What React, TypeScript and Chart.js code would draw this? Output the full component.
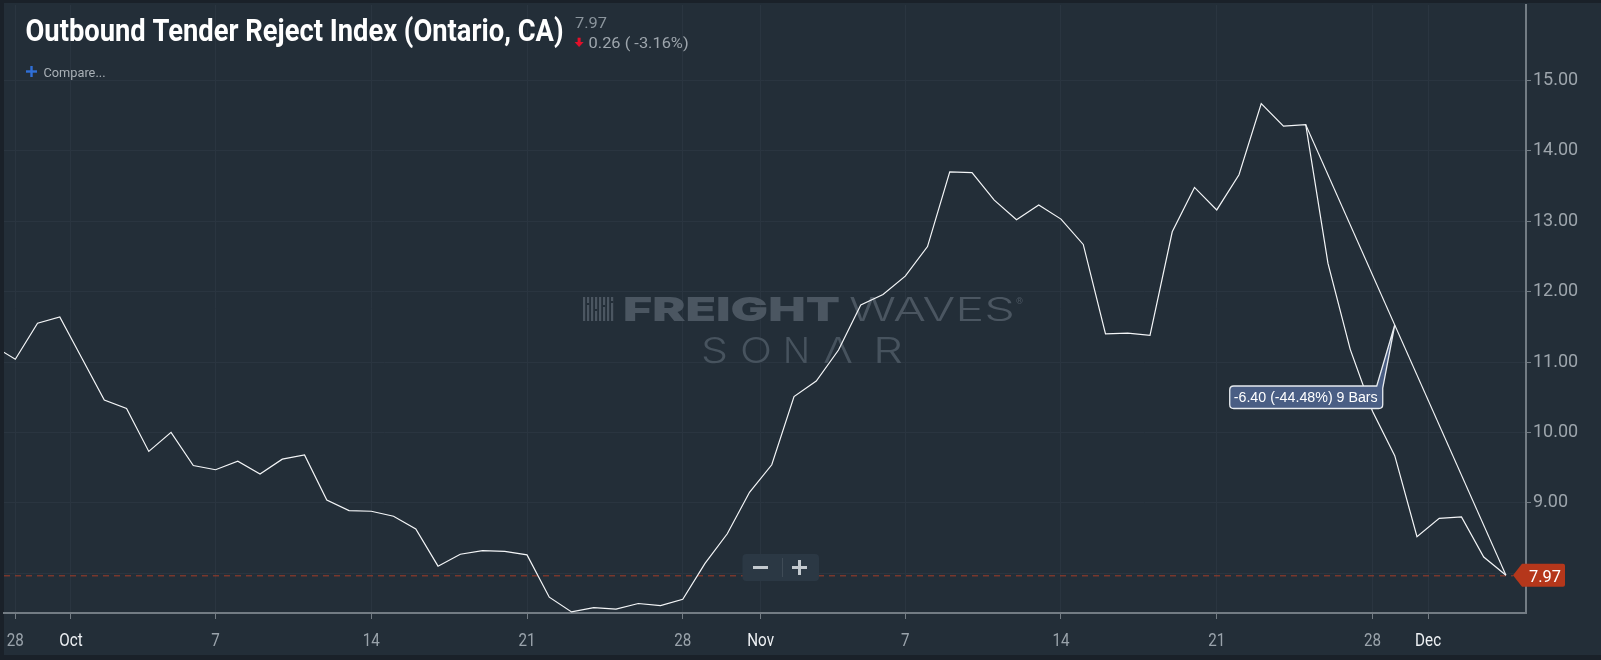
import React, { useEffect, useRef } from 'react';
import { Chart, registerables } from 'chart.js';

Chart.register(...registerables);

// ---------- text ----------
const TITLE = 'Outbound Tender Reject Index (Ontario, CA)';
const LAST_VALUE_TEXT = '7.97';
const CHANGE_TEXT = '0.26 ( -3.16%)';
const COMPARE_TEXT = 'Compare...';
const MEASURE_TEXT = '-6.40 (-44.48%) 9 Bars';

// ---------- data: daily values, Sep 27 .. Dec 4 (index 0 = Sep 27) ----------
const septValues = [11.23, 11.04, 11.55, 11.64]; // Sep 27-30
const octValues = [
  11.05, 10.46, 10.34, 9.73, 10.0, 9.53, 9.47, 9.59, 9.41, 9.62,
  9.68, 9.04, 8.89, 8.88, 8.81, 8.63, 8.1, 8.27, 8.32, 8.31,
  8.26, 7.66, 7.45, 7.51, 7.49, 7.57, 7.54, 7.63, 8.14, 8.56,
  9.15,
];
const novValues = [
  9.54, 10.51, 10.73, 11.17, 11.81, 11.96, 12.22, 12.64, 13.7, 13.69,
  13.3, 13.02, 13.23, 13.03, 12.67, 11.4, 11.41, 11.38, 12.85, 13.48,
  13.16, 13.66, 14.67, 14.35, 14.37, 12.4, 11.18, 10.3, 9.67, 8.52,
];
const decValues = [8.78, 8.8, 8.23, 7.97];
const values = [...septValues, ...octValues, ...novValues, ...decValues];

// x axis ticks (index units; Sep 28 = 1, month ticks sit half a day before the 1st)
const xTickValues = [1, 3.5, 10, 17, 24, 31, 34.5, 41, 48, 55, 62, 64.5];
const xTickLabels = ['28', 'Oct', '7', '14', '21', '28', 'Nov', '7', '14', '21', '28', 'Dec'];
const xTickIsMonth = [false, true, false, false, false, false, true, false, false, false, false, true];

const yTickValues = [8, 9, 10, 11, 12, 13, 14, 15];

// measurement annotation (Nov 25 -> Dec 4) and callout anchor (Nov 29)
const measureStartIndex = 59;
const measureEndIndex = 68;
const calloutIndex = 63;

const X_MIN = 0.492;
const X_MAX = 68.9;
const Y_MIN = 7.435;
const Y_MAX = 16.071;

function fitText(
  ctx: CanvasRenderingContext2D,
  text: string,
  x: number,
  y: number,
  width: number,
  font: string,
  color: string
) {
  ctx.save();
  ctx.font = font;
  ctx.textAlign = 'left';
  ctx.textBaseline = 'alphabetic';
  const w = ctx.measureText(text).width || 1;
  ctx.translate(x, y);
  ctx.scale(width / w, 1);
  ctx.fillStyle = color;
  ctx.fillText(text, 0, 0);
  ctx.restore();
}

const decorPlugin = {
  id: 'decor',
  beforeDraw(chart: any) {
    const ctx = chart.ctx as CanvasRenderingContext2D;
    ctx.save();
    ctx.fillStyle = '#1a2129';
    ctx.fillRect(0, 0, chart.width, chart.height);
    ctx.fillStyle = '#232e38';
    ctx.fillRect(4, 3, chart.width - 4, 652);
    ctx.restore();
  },
  beforeDatasetsDraw(chart: any) {
    const ctx = chart.ctx as CanvasRenderingContext2D;
    const ys = chart.scales.y;
    const area = chart.chartArea;
    // watermark
    ctx.save();
    ctx.fillStyle = '#4b5661';
    const bars = [
      [583, 2.2], [587, 2.2], [591, 2.2], [595, 2.2], [599, 2.2], [603, 2.2], [607, 2.2], [611, 2.2],
    ];
    bars.forEach(([bx, bw], i) => {
      ctx.fillRect(bx, 297, bw, 24);
      if (i % 2 === 1) {
        ctx.fillStyle = '#232e38';
        ctx.fillRect(bx, 300 + (i * 3) % 10, bw, 2);
        ctx.fillStyle = '#4b5661';
      }
    });
    fitText(ctx, 'FREIGHT', 623, 321, 217, '900 33px Inter, Roboto, sans-serif', '#4b5661');
    fitText(ctx, 'WAVES', 849, 321, 166, '300 33px Inter, Lato, sans-serif', '#4b5661');
    fitText(ctx, '®', 1016, 304, 7, '9px Roboto, sans-serif', '#4b5661');
    const sonar: [string, number, number][] = [
      ['S', 701, 27], ['O', 740, 32], ['N', 783, 27], ['Λ', 823, 30], ['R', 873, 30],
    ];
    sonar.forEach(([ch, lx, w]) => fitText(ctx, ch, lx, 363, w, '300 36px Inter, Lato, sans-serif', '#47535e'));
    ctx.restore();

    // last value dashed line
    const yv = ys.getPixelForValue(values[values.length - 1]);
    ctx.save();
    ctx.strokeStyle = '#a53d28';
    ctx.lineWidth = 1;
    ctx.setLineDash([6, 5]);
    ctx.beginPath();
    ctx.moveTo(area.left, yv + 0.5);
    ctx.lineTo(1513, yv + 0.5);
    ctx.stroke();
    ctx.restore();
  },
  afterDatasetsDraw(chart: any) {
    const ctx = chart.ctx as CanvasRenderingContext2D;
    const xs = chart.scales.x;
    const ys = chart.scales.y;

    // zoom buttons
    ctx.save();
    ctx.fillStyle = '#2b3844';
    ctx.beginPath();
    (ctx as any).roundRect(742.5, 554, 76.5, 27, 4);
    ctx.fill();
    ctx.fillStyle = '#c3c9ce';
    ctx.fillRect(753, 566, 15, 3);
    ctx.fillRect(792, 566, 15, 3);
    ctx.fillRect(798, 560, 3, 15);
    ctx.fillStyle = '#3f4b56';
    ctx.fillRect(782, 558, 1, 19);
    ctx.restore();

    // callout
    const frac = (calloutIndex - measureStartIndex) / (measureEndIndex - measureStartIndex);
    const v0 = values[measureStartIndex];
    const v1 = values[measureEndIndex];
    const tipX = xs.getPixelForValue(calloutIndex);
    const tipY = ys.getPixelForValue(v0 + (v1 - v0) * frac);
    const right = tipX - 12;
    const top = tipY + 61;
    const left = right - 153;
    const bottom = top + 22.5;
    const r = 4;
    ctx.save();
    ctx.beginPath();
    ctx.moveTo(left + r, top);
    ctx.lineTo(right - 6, top);
    ctx.lineTo(tipX, tipY);
    ctx.lineTo(right, top + 2);
    ctx.lineTo(right, bottom - r);
    ctx.quadraticCurveTo(right, bottom, right - r, bottom);
    ctx.lineTo(left + r, bottom);
    ctx.quadraticCurveTo(left, bottom, left, bottom - r);
    ctx.lineTo(left, top + r);
    ctx.quadraticCurveTo(left, top, left + r, top);
    ctx.closePath();
    ctx.fillStyle = '#4a5e84';
    ctx.fill();
    ctx.strokeStyle = '#e8ecf0';
    ctx.lineWidth = 1.3;
    ctx.stroke();
    fitText(ctx, MEASURE_TEXT, left + 4, top + 16, 144, '14px "Liberation Sans", Arial, sans-serif', '#ffffff');
    ctx.restore();
  },
  afterDraw(chart: any) {
    const ctx = chart.ctx as CanvasRenderingContext2D;
    const xs = chart.scales.x;
    const ys = chart.scales.y;

    // x tick labels (condensed)
    xTickValues.forEach((v, i) => {
      const px = xs.getPixelForValue(v);
      ctx.save();
      ctx.font = '19px Roboto, sans-serif';
      const w = ctx.measureText(xTickLabels[i]).width;
      ctx.translate(px, 645.5);
      ctx.scale(0.8, 1);
      ctx.fillStyle = xTickIsMonth[i] ? '#eef1f4' : '#9aa3ab';
      ctx.fillText(xTickLabels[i], -w / 2, 0);
      ctx.restore();
    });

    // last value tag
    const yv = ys.getPixelForValue(values[values.length - 1]);
    ctx.save();
    ctx.fillStyle = '#b5371b';
    ctx.beginPath();
    ctx.moveTo(1513, yv);
    ctx.lineTo(1522, yv - 11.5);
    ctx.lineTo(1563, yv - 11.5);
    ctx.quadraticCurveTo(1565, yv - 11.5, 1565, yv - 9.5);
    ctx.lineTo(1565, yv + 9.5);
    ctx.quadraticCurveTo(1565, yv + 11.5, 1563, yv + 11.5);
    ctx.lineTo(1522, yv + 11.5);
    ctx.closePath();
    ctx.fill();
    fitText(ctx, LAST_VALUE_TEXT, 1529, yv + 6.5, 32, '17px Roboto, sans-serif', '#ffffff');
    ctx.restore();

    // header
    fitText(ctx, TITLE, 25.5, 40.5, 538, 'bold 31px Roboto, sans-serif', '#ffffff');
    fitText(ctx, LAST_VALUE_TEXT, 575, 28.3, 32, '14px Roboto, sans-serif', '#8b959d');
    ctx.save();
    ctx.fillStyle = '#e3102a';
    ctx.fillRect(577.6, 37.7, 3, 5);
    ctx.beginPath();
    ctx.moveTo(574.6, 42);
    ctx.lineTo(583.6, 42);
    ctx.lineTo(579.1, 47);
    ctx.closePath();
    ctx.fill();
    ctx.restore();
    fitText(ctx, CHANGE_TEXT, 588.6, 48.3, 100, '14px Roboto, sans-serif', '#9ea6ad');
    ctx.save();
    ctx.fillStyle = '#2f6fd8';
    ctx.fillRect(26, 70.3, 11, 2.4);
    ctx.fillRect(30.3, 66, 2.4, 11);
    ctx.restore();
    fitText(ctx, COMPARE_TEXT, 43.5, 77.3, 62, '12px Roboto, sans-serif', '#a9b0b6');
  },
};

export default function App() {
  const canvasRef = useRef<HTMLCanvasElement | null>(null);

  useEffect(() => {
    const canvas = canvasRef.current;
    if (!canvas) return;
    const mainData = values.map((v, i) => ({ x: i, y: v }));
    const measureData = [
      { x: measureStartIndex, y: values[measureStartIndex] },
      { x: measureEndIndex, y: values[measureEndIndex] },
    ];
    const chart = new Chart(canvas, {
      type: 'line',
      data: {
        datasets: [
          {
            label: 'OTRI Ontario',
            data: mainData,
            borderColor: '#f4f6f8',
            borderWidth: 1.2,
            pointRadius: 0,
            tension: 0,
            fill: false,
          },
          {
            label: 'Measure',
            data: measureData,
            borderColor: '#f4f6f8',
            borderWidth: 1.1,
            pointRadius: 0,
            tension: 0,
            fill: false,
          },
        ],
      },
      options: {
        responsive: false,
        maintainAspectRatio: false,
        animation: false,
        events: [],
        layout: { padding: { left: 4, top: 5, right: 0, bottom: 0 } },
        plugins: { legend: { display: false }, tooltip: { enabled: false } },
        scales: {
          x: {
            type: 'linear',
            position: 'bottom',
            min: X_MIN,
            max: X_MAX,
            afterBuildTicks: (s: any) => {
              s.ticks = xTickValues.map((v) => ({ value: v }));
            },
            afterFit: (s: any) => {
              s.height = 47;
              s.paddingLeft = 0;
              s.paddingRight = 0;
            },
            ticks: { display: false },
            grid: { color: '#2a3540', lineWidth: 1, drawTicks: true, tickLength: 6, tickColor: '#737c84' },
            border: { display: true, color: '#737c84', width: 2 },
          },
          y: {
            type: 'linear',
            position: 'right',
            min: Y_MIN,
            max: Y_MAX,
            afterBuildTicks: (s: any) => {
              s.ticks = yTickValues.map((v) => ({ value: v }));
            },
            afterFit: (s: any) => {
              s.width = 75;
              s.paddingTop = 0;
              s.paddingBottom = 0;
            },
            ticks: {
              color: '#9da5ac',
              padding: 2,
              font: { family: 'Roboto', size: 18 },
              callback: (v: any) => (Number(v) === 8 ? '' : Number(v).toFixed(2)),
            },
            grid: { color: '#2a3540', lineWidth: 1, drawTicks: true, tickLength: 5, tickColor: '#737c84' },
            border: { display: true, color: '#737c84', width: 2 },
          },
        },
      },
      plugins: [decorPlugin],
    });
    return () => chart.destroy();
  }, []);

  return (
    <div style={{ position: 'fixed', left: 0, top: 0, width: 1601, height: 660, background: '#1a2129' }}>
      <canvas ref={canvasRef} width={1601} height={660} style={{ display: 'block', width: 1601, height: 660 }} />
    </div>
  );
}
